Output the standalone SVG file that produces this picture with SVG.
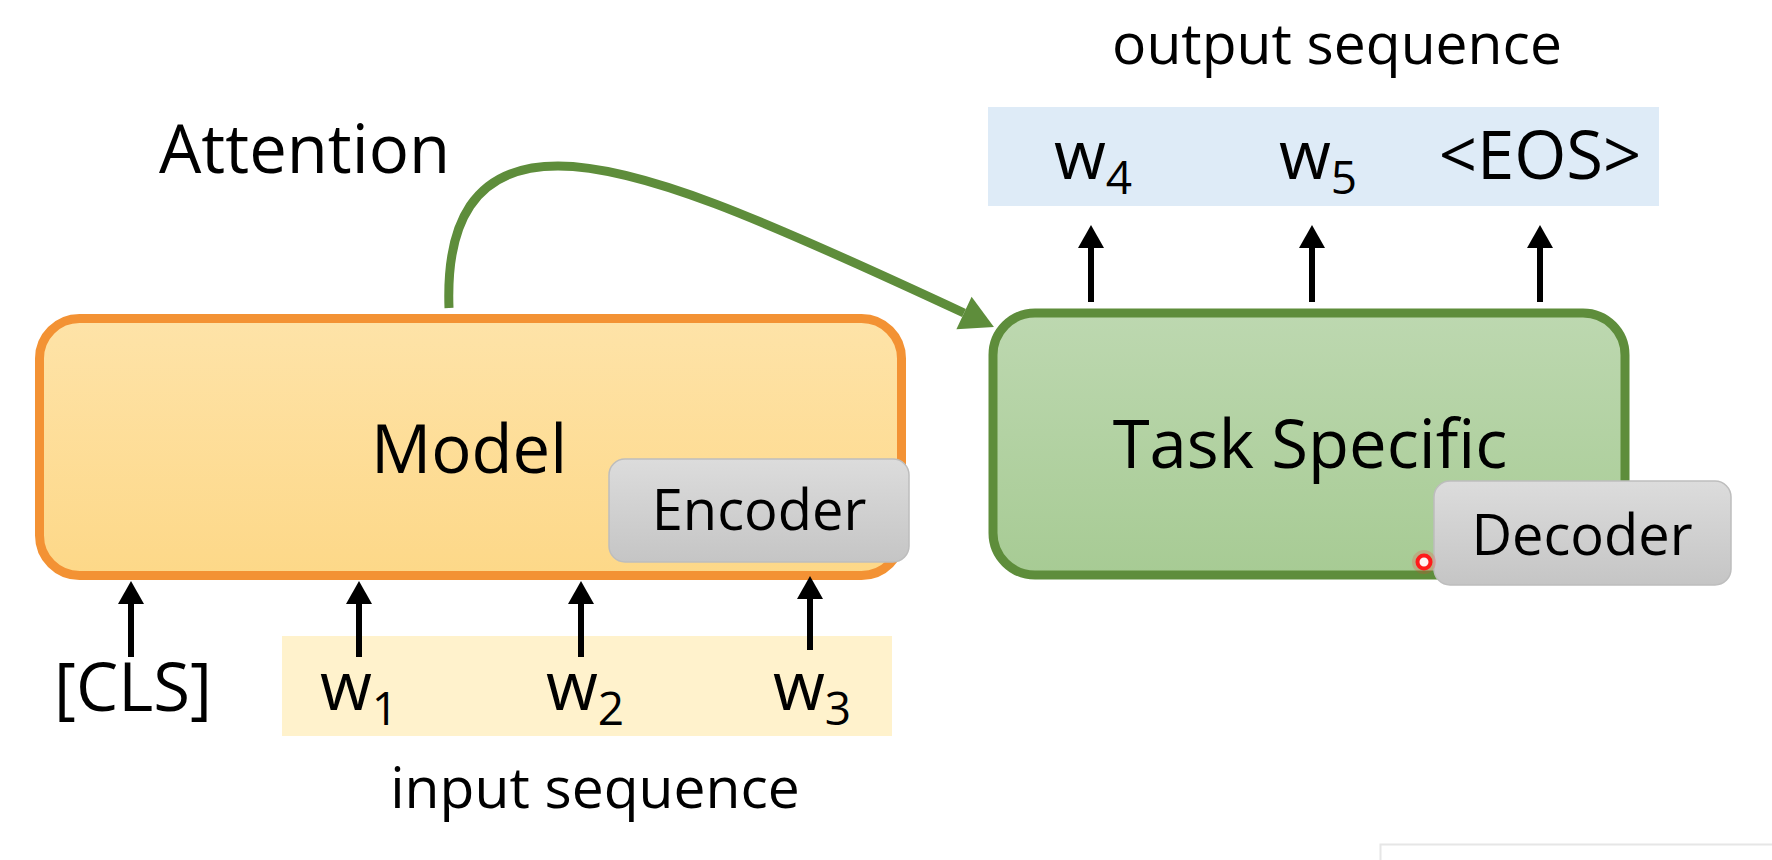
<svg xmlns="http://www.w3.org/2000/svg" width="1772" height="860" viewBox="0 0 1772 860">
<defs>
<style>
.t{font-family:"Open Sans","Noto Sans","Liberation Sans",sans-serif;fill:#000}
.big{font-size:67px}
.mid{font-size:57px}
.sm{font-size:56px}
.sub{font-size:46px}
.blk{stroke:#000;stroke-width:6;fill:none}
</style>
<linearGradient id="gModel" x1="0" y1="0" x2="0" y2="1">
<stop offset="0" stop-color="#FEE3A8"/><stop offset="1" stop-color="#FDD888"/>
</linearGradient>
<linearGradient id="gTask" x1="0" y1="0" x2="0" y2="1">
<stop offset="0" stop-color="#BDD8B0"/><stop offset="1" stop-color="#A7CB94"/>
</linearGradient>
<linearGradient id="gGray" x1="0" y1="0" x2="0" y2="1">
<stop offset="0" stop-color="#DCDCDC"/><stop offset="1" stop-color="#C5C5C5"/>
</linearGradient>
<marker id="ah" markerUnits="userSpaceOnUse" markerWidth="30" markerHeight="30" refX="0" refY="0" orient="auto" overflow="visible">
<path d="M0,-13 L23,0 L0,13 Z" fill="#000"/>
</marker>
<marker id="gh" markerUnits="userSpaceOnUse" markerWidth="40" markerHeight="40" refX="0" refY="0" orient="auto" overflow="visible">
<path d="M0,-18 L33,0 L0,18 Z" fill="#5E8D3B"/>
</marker>
</defs>
<rect width="1772" height="860" fill="#fff"/>
<rect x="1380.5" y="844.5" width="400" height="40" fill="#fff" stroke="#E6E6E6" stroke-width="2"/>

<g id="output-seq">
<rect x="988" y="107" width="671" height="99" fill="#DEEBF7"/>
<text class="t big" x="1093" y="179" text-anchor="middle">w<tspan class="sub" dy="15">4</tspan></text>
<text class="t big" x="1318" y="179" text-anchor="middle">w<tspan class="sub" dy="15">5</tspan></text>
<text class="t big" x="1540" y="179" text-anchor="middle">&lt;EOS&gt;</text>
</g>
<g id="output-label"><text class="t mid" x="1337" y="64" text-anchor="middle">output sequence</text></g>
<g id="attention-label"><text class="t big" x="159" y="173">Attention</text></g>

<g id="input-seq">
<rect x="282" y="636" width="610" height="100" fill="#FFF2CC"/>
<text class="t big" x="359" y="710" text-anchor="middle">w<tspan class="sub" dy="15">1</tspan></text>
<text class="t big" x="585" y="710" text-anchor="middle">w<tspan class="sub" dy="15">2</tspan></text>
<text class="t big" x="812" y="710" text-anchor="middle">w<tspan class="sub" dy="15">3</tspan></text>
</g>
<g id="cls"><text class="t big" x="133" y="711" text-anchor="middle">[CLS]</text></g>
<g id="input-label"><text class="t mid" x="595" y="808" text-anchor="middle">input sequence</text></g>

<g id="model">
<rect x="39.5" y="318.5" width="862" height="257" rx="40" fill="url(#gModel)" stroke="#F39234" stroke-width="9"/>
<text class="t big" x="469" y="473" text-anchor="middle">Model</text>
</g>
<g id="encoder">
<rect x="609" y="459" width="300" height="103" rx="16" fill="url(#gGray)" stroke="#BDBDBD" stroke-width="1.5"/>
<text class="t sm" x="759" y="530" text-anchor="middle">Encoder</text>
</g>

<g id="task-specific">
<rect x="993" y="313" width="632" height="262" rx="42" fill="url(#gTask)" stroke="#5E8D3B" stroke-width="9"/>
<text class="t big" x="1310" y="468" text-anchor="middle">Task Specific</text>
</g>
<g id="decoder">
<rect x="1434" y="481" width="297" height="104" rx="16" fill="url(#gGray)" stroke="#BDBDBD" stroke-width="1.5"/>
<text class="t sm" x="1582" y="555" text-anchor="middle">Decoder</text>
</g>

<g id="connectors">
<path d="M449,308 C446,225 472,166 558,166 C640,166 760,218 964,313" fill="none" stroke="#5E8D3B" stroke-width="9" marker-end="url(#gh)"/>
<line class="blk" x1="131" y1="657" x2="131" y2="604" marker-end="url(#ah)"/>
<line class="blk" x1="359" y1="657" x2="359" y2="604" marker-end="url(#ah)"/>
<line class="blk" x1="581" y1="657" x2="581" y2="604" marker-end="url(#ah)"/>
<line class="blk" x1="810" y1="650" x2="810" y2="599" marker-end="url(#ah)"/>
<line class="blk" x1="1091" y1="302" x2="1091" y2="248" marker-end="url(#ah)"/>
<line class="blk" x1="1312" y1="302" x2="1312" y2="248" marker-end="url(#ah)"/>
<line class="blk" x1="1540" y1="302" x2="1540" y2="248" marker-end="url(#ah)"/>
</g>

<g id="cursor">
<circle cx="1424" cy="562" r="12" fill="#FF3030" opacity="0.2"/>
<circle cx="1424" cy="562" r="6.5" fill="#FFF4F4" stroke="#FF1A1A" stroke-width="4"/>
</g>
</svg>
